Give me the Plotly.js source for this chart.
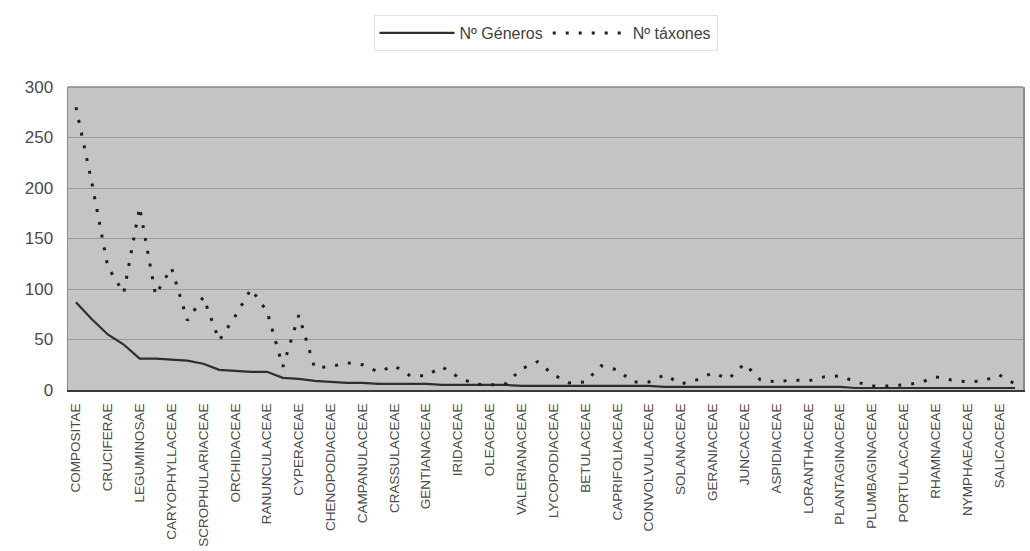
<!DOCTYPE html>
<html>
<head>
<meta charset="utf-8">
<script src="https://cdn.plot.ly/plotly-3.0.1.min.js"></script>
<style>html,body{margin:0;padding:0;background:#fff;}#chart{width:1030px;height:551px;}</style>
</head>
<body>
<div id="chart"></div>
<script>
// Tick labels shown on the category axis (every second family is labelled)
var tickLabels = ["COMPOSITAE","CRUCIFERAE","LEGUMINOSAE","CARYOPHYLLACEAE","SCROPHULARIACEAE",
  "ORCHIDACEAE","RANUNCULACEAE","CYPERACEAE","CHENOPODIACEAE","CAMPANULACEAE",
  "CRASSULACEAE","GENTIANACEAE","IRIDACEAE","OLEACEAE","VALERIANACEAE",
  "LYCOPODIACEAE","BETULACEAE","CAPRIFOLIACEAE","CONVOLVULACEAE","SOLANACEAE",
  "GERANIACEAE","JUNCACEAE","ASPIDIACEAE","LORANTHACEAE","PLANTAGINACEAE",
  "PLUMBAGINACEAE","PORTULACACEAE","RHAMNACEAE","NYMPHAEACEAE","SALICACEAE"];

// Nº Géneros per family (60 families, in chart order)
var generos = [87,70,55,45,31,31,30,29,26,20,
               19,18,18,12,11,9,8,7,7,6,
               6,6,6,5,5,5,5,5,4,4,
               4,4,4,4,4,4,4,3,3,3,
               3,3,3,3,3,3,3,3,3,2,
               2,2,2,2,2,2,2,2,2,2];

// Nº táxones per family
var taxones = [280,205,122,96,181,94,121,69,92,49,
               73,100,78,23,74,22,23,27,25,18,
               24,14,14,23,13,6,5,6,21,28,
               15,7,8,24,20,8,8,15,6,10,
               17,11,26,10,8,10,9,13,14,8,
               4,4,5,7,13,10,8,9,15,6];

var idx = generos.map(function(_, i){ return i; });
var tickIdx = tickLabels.map(function(_, i){ return i * 2; });

var traces = [
  {x: idx, y: generos, type: 'scatter', mode: 'lines', name: 'Nº Géneros',
   line: {color: '#2e2e2e', width: 2.2}},
  {x: idx, y: taxones, type: 'scatter', mode: 'lines', name: 'Nº táxones',
   line: {color: '#1e1e1e', width: 3, dash: '3px,10px'}}
];

var layout = {
  width: 1030, height: 551,
  margin: {l: 68, r: 7, t: 87, b: 161},
  paper_bgcolor: '#ffffff',
  plot_bgcolor: '#c4c4c4',
  font: {family: 'Liberation Sans, Arial, sans-serif', color: '#505050'},
  showlegend: true,
  legend: {orientation: 'h', x: 0.5, xanchor: 'center', y: 1.178, yanchor: 'middle',
           font: {size: 16, color: '#404040'}, bgcolor: '#ffffff',
           bordercolor: '#e4e4e4', borderwidth: 1, itemwidth: 75},
  xaxis: {
    range: [-0.5, generos.length - 0.5],
    tickmode: 'array', tickvals: tickIdx, ticktext: tickLabels,
    tickangle: -90, tickfont: {size: 13.5, color: '#4a4a4a'},
    ticks: 'outside', ticklen: 6, tickcolor: 'rgba(0,0,0,0)',
    showgrid: false, zeroline: false,
    showline: true, linecolor: '#3a3a3a', linewidth: 2
  },
  yaxis: {
    range: [0, 300], tickmode: 'linear', tick0: 0, dtick: 50,
    tickfont: {size: 17, color: '#4a4a4a'},
    ticks: 'outside', ticklen: 10, tickcolor: 'rgba(0,0,0,0)',
    showgrid: true, gridcolor: '#9a9a9a', gridwidth: 1,
    zeroline: false,
    showline: true, linecolor: '#8a8a8a', linewidth: 1.5, mirror: true
  },
  shapes: [
    {type: 'line', xref: 'paper', yref: 'paper', x0: 0, x1: 1, y0: 1, y1: 1,
     line: {color: '#8a8a8a', width: 1.5}}
  ]
};

Plotly.newPlot('chart', traces, layout, {displayModeBar: false, staticPlot: true});
</script>
</body>
</html>
